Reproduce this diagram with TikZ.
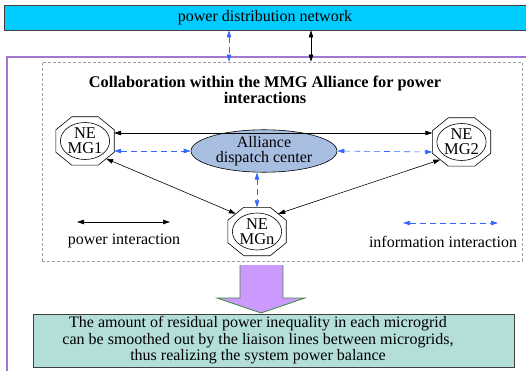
\documentclass[tikz,border=0pt]{standalone}
\usepackage{fontspec}
\setmainfont{Liberation Serif}
\usetikzlibrary{arrows.meta,shapes.geometric}

\definecolor{gridcyan}{RGB}{0,204,255}
\definecolor{framepurple}{RGB}{160,120,210}
\definecolor{infoblue}{RGB}{51,102,255}
\definecolor{centerfill}{RGB}{168,190,224}
\definecolor{arrowlilac}{RGB}{204,153,255}
\definecolor{arrowgreen}{RGB}{60,140,60}
\definecolor{resultfill}{RGB}{180,222,218}
\definecolor{edgegray}{RGB}{64,64,64}
\definecolor{zonegray}{RGB}{160,160,160}

\begin{document}
\begin{tikzpicture}[x=1pt,y=-1pt,
  txt/.style={font=\fontsize{16}{16.5}\selectfont, inner sep=0pt, align=center},
  power/.style={{Triangle[length=7pt,width=4.5pt]}-{Triangle[length=7pt,width=4.5pt]}, black, line width=0.6pt},
  info/.style={{Triangle[length=7pt,width=4.5pt]}-{Triangle[length=7pt,width=4.5pt]}, infoblue, dash pattern=on 6pt off 4pt, line width=0.6pt},
  octbox/.style={minimum width=58pt, minimum height=48pt, inner sep=0pt},
  octline/.style={draw=black, line width=0.6pt},
  ring/.style={ellipse, draw, line width=0.6pt, minimum width=44pt, minimum height=37pt, inner sep=0pt,
    font=\fontsize{16.5}{15}\selectfont, align=center},
]
\useasboundingbox (0,0) rectangle (526,371);

% outer frame of the MMG system
\draw[framepurple, line width=1.3pt] (7,380) -- (7,57) -- (535,57);

% power distribution network
\node[draw=edgegray, line width=0.8pt, fill=gridcyan, minimum width=522pt, minimum height=25pt,
  inner sep=0pt, txt] (pdn) at (265,17.5) {power distribution network};

% alliance zone
\node[draw=zonegray, dash pattern=on 3pt off 2pt, line width=0.6pt,
  minimum width=480pt, minimum height=199pt, inner sep=0pt] (zone) at (282,161.5) {};

\coordinate (infolink) at (229,0);
\coordinate (powerlink) at (311,0);
\draw[info] (pdn.south -| infolink) -- (zone.north -| infolink);
\draw[power] (pdn.south -| powerlink) -- (zone.north -| powerlink);

\node[txt, font=\fontsize{16.3}{16.5}\selectfont\bfseries] (title) at (265,90)
  {Collaboration within the MMG Alliance for power\\interactions};

% microgrids
\node[octbox] (MG1) at (85,141) {};
\node[octbox] (MG2) at (461.5,142) {};
\node[octbox] (MGn) at (257,231.5) {};
\foreach \n in {MG1,MG2,MGn}
  \draw[octline] ([xshift=16pt]\n.north west) -- ([xshift=-16pt]\n.north east)
    -- ([yshift=-13pt]\n.north east) -- ([yshift=13pt]\n.south east)
    -- ([xshift=-16pt]\n.south east) -- ([xshift=16pt]\n.south west)
    -- ([yshift=13pt]\n.south west) -- ([yshift=-13pt]\n.north west) -- cycle;
\node[ring] (MG1c) at (MG1) {NE\\MG1};
\node[ring] (MG2c) at (MG2) {NE\\MG2};
\node[ring] (MGnc) at (MGn) {NE\\MGn};

% dispatch center
\node[ellipse, draw=black, line width=0.6pt, fill=centerfill, minimum width=146pt, minimum height=32pt,
  inner sep=0pt, txt, font=\fontsize{16}{15.5}\selectfont] (adc) at (264,151) {Alliance\\dispatch center};

% power interactions
\draw[power] ([yshift=8pt]MG1.east) -- ([yshift=9pt]MG2.west);
\draw[power] ([xshift=-8pt,yshift=6.5pt]MG1.south east) -- ([xshift=8pt,yshift=-6.5pt]MGn.north west);
\draw[power] ([xshift=8pt,yshift=6.5pt]MG2.south west) -- ([xshift=-8pt,yshift=-6.5pt]MGn.north east);

% information interactions
\draw[info] ([yshift=-10pt]MG1.east) -- (adc.west);
\draw[info] (adc.east) -- ([yshift=-10pt]MG2.west);
\draw[info] (adc.south -| MGn.north) -- (MGn.north);

% legend
\coordinate (lp1) at (77,222);
\coordinate (lp2) at (170,222);
\draw[power] (lp1) -- (lp2);
\node[txt] (lptxt) at (124,241) {power interaction};
\coordinate (li1) at (403,223);
\coordinate (li2) at (498,223);
\draw[info] (li1) -- (li2);
\node[txt] (litxt) at (443,242) {information interaction};

% outcome arrow
\fill[arrowlilac] (240,265) -- (283,265) -- (283,298) -- (305,298) -- (261,313)
  -- (217,298) -- (240,298) -- cycle;
\draw[arrowgreen, line width=0.8pt] (240,265) -- (240,298) -- (217,298) -- (261,313)
  -- (305,298) -- (283,298) -- (283,265);

% outcome
\node[draw=edgegray, line width=1pt, fill=resultfill, minimum width=481pt, minimum height=53pt,
  inner sep=0pt] (res) at (273.5,340.5) {};
\node[txt] (restxt) at (258,340.5)
  {The amount of residual power inequality in each microgrid\\
   can be smoothed out by the liaison lines between microgrids,\\
   thus realizing the system power balance};
\end{tikzpicture}
\end{document}
